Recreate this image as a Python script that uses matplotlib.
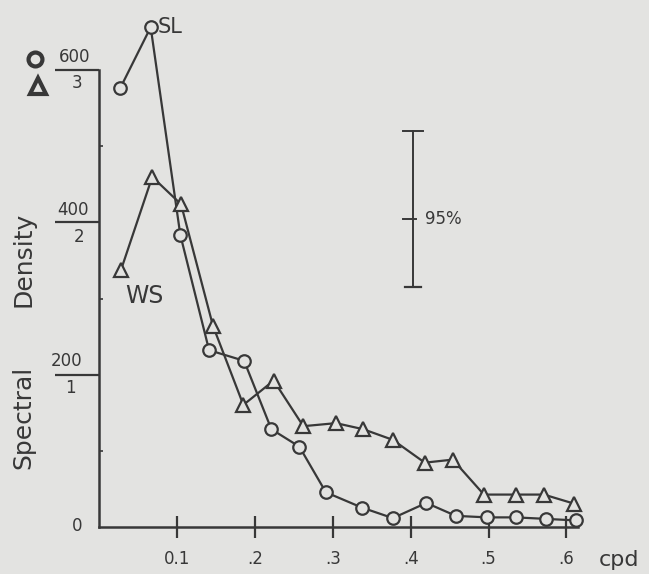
import matplotlib
matplotlib.use("Agg")
import matplotlib.pyplot as plt
from matplotlib.lines import Line2D

# ---- data ----
freq_sl = [0.027, 0.066, 0.104, 0.141, 0.186, 0.221, 0.257, 0.291,
           0.337, 0.377, 0.420, 0.458, 0.498, 0.535, 0.574, 0.612]
sl_values = [577, 657, 384, 232, 218, 128, 105, 45,
             25, 11, 31, 14, 12, 12, 10, 8]          # left scale 0-600 (circles)

freq_ws = [0.028, 0.068, 0.105, 0.146, 0.185, 0.224, 0.262, 0.304,
           0.339, 0.377, 0.418, 0.454, 0.494, 0.535, 0.571, 0.610]
ws_values = [1.69, 2.30, 2.12, 1.32, 0.80, 0.96, 0.66, 0.68,
             0.64, 0.57, 0.42, 0.44, 0.21, 0.21, 0.21, 0.15]  # scale 0-3 (triangles)

x_ticks = [0.1, 0.2, 0.3, 0.4, 0.5, 0.6]
x_tick_labels = ["0.1", ".2", ".3", ".4", ".5", ".6"]
y_ticks_sl = [200, 400, 600]
y_labels_sl = ["200", "400", "600"]
y_labels_ws = ["1", "2", "3"]

BG = "#e3e3e1"
INK = "#383838"

W, H = 649, 574
fig = plt.figure(figsize=(W / 100, H / 100), dpi=100, facecolor=BG)

def fx(px):
    return px / W

def fy(py):
    return 1 - py / H

x0_px, xscale = 99.3, 778.6
y0_px, yscale = 526.5, 0.76
xmax = 0.615
ymax = 600
ax = fig.add_axes([fx(x0_px), fy(y0_px), xmax * xscale / W, ymax * yscale / H])
ax.set_facecolor(BG)
ax.set_xlim(0, xmax)
ax.set_ylim(0, ymax)
for s in ("top", "right"):
    ax.spines[s].set_visible(False)
for s in ("left", "bottom"):
    ax.spines[s].set_linewidth(1.8)
    ax.spines[s].set_color(INK)

ax.set_xticks(x_ticks)
ax.set_xticklabels(x_tick_labels)
ax.tick_params(axis="x", direction="inout", length=16, width=1.6, color=INK,
               pad=9, labelsize=12, labelcolor=INK)
ax.set_yticks(y_ticks_sl)
ax.set_yticklabels([])
ax.set_yticks([100, 300, 500], minor=True)
ax.tick_params(axis="y", which="major", direction="out", length=32, width=1.6, color=INK)
ax.tick_params(axis="y", which="minor", direction="in", length=3, width=1.2, color=INK)

ax2 = ax.twinx()
ax2.set_ylim(0, 3)
ax2.axis("off")

# series
ax.plot(freq_sl, sl_values, color=INK, lw=1.6, marker="o", ms=9, mew=1.6,
        mfc=BG, mec=INK, clip_on=False, zorder=3)
ax2.plot(freq_ws, ws_values, color=INK, lw=1.6, marker="^", ms=10, mew=1.6,
         mfc=BG, mec=INK, clip_on=False, zorder=3)

# y tick labels as fractions (circle scale over triangle scale)
num_pos = [(67, 361), (72.5, 210), (75, 57)]
den_pos = [(70, 388), (79, 237), (77, 83)]
for lab, (px, py) in zip(y_labels_sl, num_pos):
    fig.text(fx(px), fy(py), lab, ha="center", va="center", fontsize=12, color=INK)
for lab, (px, py) in zip(y_labels_ws, den_pos):
    fig.text(fx(px), fy(py), lab, ha="center", va="center", fontsize=12, color=INK)
fig.text(fx(77), fy(526), "0", ha="center", va="center", fontsize=12, color=INK)

# legend symbols
fig.add_artist(Line2D([fx(35)], [fy(59)], marker="o", ms=10, mew=3, mfc=BG,
                      mec=INK, ls="none", transform=fig.transFigure))
fig.add_artist(Line2D([fx(37.5)], [fy(86)], marker="^", ms=12, mew=3, mfc=BG,
                      mec=INK, ls="none", transform=fig.transFigure))

# axis labels
fig.text(fx(23), fy(417), "Spectral", rotation=90, ha="center", va="center",
         fontsize=18, color=INK)
fig.text(fx(23), fy(259), "Density", rotation=90, ha="center", va="center",
         fontsize=18, color=INK)
fig.text(fx(619), fy(560), "cpd", ha="center", va="center", fontsize=16, color=INK)

# series labels
fig.text(fx(158), fy(27), "SL", ha="left", va="center", fontsize=15, color=INK)
fig.text(fx(125), fy(296), "WS", ha="left", va="center", fontsize=17, color=INK)

# 95% confidence bar
bx = 0.403
ax.plot([bx, bx], [315, 520], color=INK, lw=1.4)
ax.plot([bx - 0.013, bx + 0.013], [520, 520], color=INK, lw=1.4)
ax.plot([bx - 0.010, bx + 0.010], [315, 315], color=INK, lw=1.6)
ax.plot([bx - 0.013, bx + 0.004], [405, 405], color=INK, lw=1.4)
ax.text(bx + 0.015, 405, "95%", ha="left", va="center", fontsize=12, color=INK)

fig.savefig("out.png", dpi=100, facecolor=BG)
